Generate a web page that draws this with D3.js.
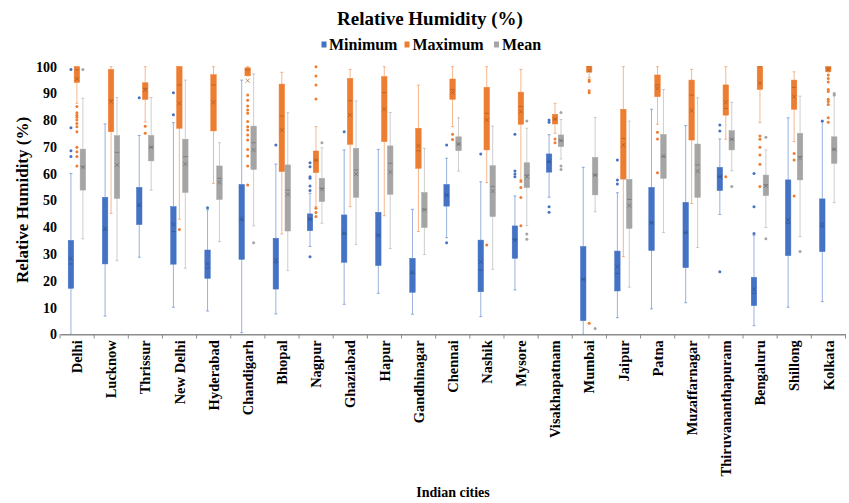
<!DOCTYPE html>
<html><head><meta charset="utf-8">
<script src="https://cdn.jsdelivr.net/npm/d3@7"></script>
<style>
html,body{margin:0;padding:0;background:#fff;}
</style></head>
<body><svg id="chart" width="849" height="503"></svg>
<script>
const cities = ["Delhi","Lucknow","Thrissur","New Delhi","Hyderabad","Chandigarh","Bhopal","Nagpur","Ghaziabad","Hapur","Gandhinagar","Chennai","Nashik","Mysore","Visakhapatnam","Mumbai","Jaipur","Patna","Muzaffarnagar","Thiruvananthapuram","Bengaluru","Shillong","Kolkata"];
const seriesNames = ["Minimum","Maximum","Mean"];
const yTicks = [0,10,20,30,40,50,60,70,80,90,100];

// [whisker low, Q1, median, Q3, whisker high, mean]
const minimumStats = [
 [0,17.2,26.3,35.1,60.1,28.3],[6.8,26.3,39,51.2,78.6,39.6],[28.8,41,48,54.9,74.3,48.4],[10.1,26.2,38.4,47.7,79.1,41.1],
 [8.7,20.9,24.7,31.5,46.5,26.3],[0.6,28,42.7,56,95,43.2],[7.6,16.9,26.8,35.9,63.6,27.8],[32.8,38.7,43,45,52.7,43],
 [11.2,26.9,37.7,44.6,68.9,37.7],[15.3,25.7,37.1,45.6,69.1,36.9],[7.5,15.7,22.8,28.4,46.7,23.2],[36.1,47.9,52,56,65.8,52],
 [6.6,15.9,24,35.2,57,27.1],[16.6,28.4,35.5,40.5,51.7,35.2],[51.2,60.6,64.5,67.4,74.6,64.5],[0,5.1,20.5,32.8,62.4,20.5],
 [6.2,16.2,22.8,31.1,52.9,25.3],[9.5,31.3,41.7,54.9,84.1,41.7],[11.8,24.9,38,49.3,78,38.1],[44.8,53.7,58.9,62.4,73,58.9],
 [3.2,10.7,15.3,21.3,37,16.8],[10.1,29.4,41.5,57.7,80.9,42.7],[12.2,30.9,40.2,50.6,79.5,41.2]
];
const maximumStats = [
 [86.3,94.1,98.8,100,100,95.4],[45.2,75.7,87.5,99,100,86.9],[79.4,87.8,91.9,94,100,91.3],[43,77,93.2,100,100,86.3],
 [56.4,76,93.2,97,100,86.7],[96.6,96.6,98.8,99.6,100,94.8],[37.5,60.8,81.6,93.5,97.9,76.3],[47.7,60.4,65.1,68.5,77.6,65.1],
 [47.7,71,87.3,95.6,99,81.9],[44.3,72,90.3,96.3,100,84.1],[38.4,62,68.6,77,93.1,70.4],[77.6,87.8,91.5,95.4,100,90.4],
 [56.7,68.9,82.6,92.3,100,80.1],[56.7,78.5,85.1,90.5,99,83.2],[75.1,78.6,80.4,82.2,86.3,80.4],[96,98,100,100,100,98.5],
 [29,58,73.2,84.1,100,70.7],[78.5,88.8,93.2,96.9,100,91.9],[48.9,72.6,89.4,95,99,83.6],[72.9,81.9,84.4,93.2,100,86.7],
 [79.1,91.5,100,100,100,93.8],[72,84.1,92.3,95,98.1,88.8],[98,98.2,99.5,100,100,98.8]
];
const meanStats = [
 [35.7,53.9,62.6,69.2,88.2,62.4],[27.5,50.8,68,74.2,88.5,63.3],[53.9,64.8,69.9,74.3,88.5,69.9],[24.7,53,66.4,72.9,95,63.6],
 [34.6,50.4,58.3,62.9,71.6,56.8],[40.5,61.6,71.6,77.8,97.3,68.9],[23.8,38.6,53.9,63.3,82.8,52.3],[41.5,49.6,54.5,58.3,69.7,54.2],
 [33.6,51.2,61.4,69.5,87.2,59.9],[32,52.3,63.9,70.4,82.9,60.6],[29.8,39.9,46.7,53,69.5,46.5],[61,68.6,71.1,73.8,80.9,71.1],
 [24.3,44,55.2,63,77.8,53.5],[40.6,54.8,59.5,64.1,77,58.9],[65.5,70.1,72.4,74.5,80.3,72.4],[45.8,52.1,59.5,66.1,81,59.5],
 [17.6,39.6,50.4,57.9,79.7,48.1],[38,58.3,66.4,74.7,91.5,66.6],[32.4,51.2,63.3,71.1,88.4,61],[61.1,68.9,72.9,76.1,86.7,72.9],
 [39.9,51.8,55.8,59.5,68.9,55.4],[36.5,57.7,66.4,75.1,89,65.8],[49.2,63.9,69.1,73.8,89.2,69.1]
];

const minimumOutliers = [
 [99,77.2,68.6,66.4],[],[88.4],[90.3,82],[47.3],[],[70.7],[64.1,62.6,58.9,58.3,55.4,53.7,29],
 [75.7],[],[],[70.7,34.2],[67.4],[74.8,61,59.9,58.9],[80.1,79.2,47.7,45.6],[],
 [65.1,57.7,56.2],[],[],[78.2,76,23.4],[60.1,47.7,37.7],[],[79.7]
];
const maximumOutliers = [
 [85.1,82.8,81.9,81.1,80.1,78.8,77.6,75.7,69.9,68.2,66.4,62.9],[],[77.7,75.1],[39.2],[],
 [89.4,87.5,85.3,83.8,82.6,79.5,77.6,76.3,74.5,72.6,69.1,66.6,62.9,55.8],[],[100,96.5,93.2,87.9,47.1,45.5,44],
 [],[],[],[74.8,72.8],[33.4],[57.4,54.9,51.1,40.6],[73,71.6],[95,94.5,91,90.3,4.1],
 [],[75.5,73,60.4],[],[58.9],[74.1,72.9,69.9,67,63.5,55.2],[67.6,65.1,51.7],[96.9,95.6,94.3,91.5,90.7,87.8,87,85.9,80.9,79.2]
];
const meanOutliers = [
 [99],[],[],[],[],[34.2],[],[71.6],[],[],[],[],[],[79.7,37.5,35.5],[82.9,62.9,61.6],[2.2],
 [],[],[],[55.2],[73.6,35.7],[30.9],[90,89.4]
];

const FONT = "'Liberation Serif','Times New Roman',serif";
const colors = {Minimum:"#4472C4", Maximum:"#ED7D31", Mean:"#A5A5A5"};
const darks = {Minimum:"#2F528F", Maximum:"#AE5A21", Mean:"#6E6E6E"};
const statsBy = {Minimum:minimumStats, Maximum:maximumStats, Mean:meanStats};
const outBy = {Minimum:minimumOutliers, Maximum:maximumOutliers, Mean:meanOutliers};

const svg = d3.select("#chart");
const x = d3.scaleBand().domain(cities).range([60, 845.5]);
const sub = d3.scaleBand().domain(seriesNames).range([8.2, 25.6]).paddingInner(0.08);
const y = d3.scaleLinear().domain([0,100]).range([334.3, 66.7]);

function label(sel, size){
  return sel.style("font-family",FONT).style("font-weight","bold").style("font-size",size).attr("fill","#000");
}

// title
label(svg.append("text").attr("x",430).attr("y",25).attr("text-anchor","middle"),"19px").text("Relative Humidity (%)");

// legend
const legendPos = [{n:"Minimum",sx:324,tx:329},{n:"Maximum",sx:407,tx:412.5},{n:"Mean",sx:496.5,tx:502}];
legendPos.forEach(l=>{
  svg.append("rect").attr("x",l.sx-2.5).attr("y",41.5).attr("width",5).attr("height",6).attr("fill",colors[l.n]);
  label(svg.append("text").attr("x",l.tx).attr("y",50),"16px").text(l.n);
});

// y axis
const ya = svg.append("g").attr("transform","translate(58,0)").call(d3.axisLeft(y).tickValues(yTicks).tickSize(0).tickPadding(1));
ya.select(".domain").remove();
label(ya.selectAll("text"),"14px");

label(svg.append("text").attr("transform","translate(28,200) rotate(-90)").attr("text-anchor","middle"),"17px").text("Relative Humidity (%)");

// boxes
const plot = svg.append("g");
seriesNames.forEach(s=>{
  const st = statsBy[s], outs = outBy[s];
  const w = sub.bandwidth();
  cities.forEach((c,i)=>{
    const d = st[i];
    const x0 = x(c) + sub(s), xc = x0 + w/2;
    const g = plot.append("g");
    g.append("line").attr("x1",xc).attr("x2",xc).attr("y1",y(d[3])).attr("y2",y(d[4])).attr("stroke",colors[s]).attr("stroke-opacity",0.55).attr("stroke-width",1);
    g.append("line").attr("x1",xc).attr("x2",xc).attr("y1",y(d[1])).attr("y2",y(d[0])).attr("stroke",colors[s]).attr("stroke-opacity",0.55).attr("stroke-width",1);
    [d[0],d[4]].forEach(v=>g.append("line").attr("x1",xc-1.5).attr("x2",xc+1.5).attr("y1",y(v)).attr("y2",y(v)).attr("stroke",colors[s]).attr("stroke-opacity",0.55).attr("stroke-width",1));
    g.append("rect").attr("x",x0).attr("width",w).attr("y",y(d[3])).attr("height",Math.max(0.8,y(d[1])-y(d[3])))
      .attr("fill",colors[s]).attr("stroke",colors[s]).attr("stroke-width",0.5);
    g.append("line").attr("x1",x0+0.5).attr("x2",x0+w-0.5).attr("y1",y(d[2])).attr("y2",y(d[2])).attr("stroke",darks[s]).attr("stroke-width",0.7);
    const my = y(d[5]), r = 2;
    g.append("path").attr("d",`M${xc-r},${my-r}L${xc+r},${my+r}M${xc-r},${my+r}L${xc+r},${my-r}`).attr("stroke",darks[s]).attr("stroke-width",0.7).attr("fill","none");
    outs[i].forEach(v=>g.append("circle").attr("cx",xc).attr("cy",y(v)).attr("r",1.5).attr("fill",colors[s]));
  });
});

// x axis
const xa = svg.append("g").attr("transform","translate(0,334.3)").call(d3.axisBottom(x).tickSize(0).tickSizeOuter(0));
xa.select(".domain").attr("stroke","#8c8c8c").attr("stroke-width",1.5);
label(xa.selectAll("text").attr("transform","rotate(-90)").attr("text-anchor","end").attr("x",-6).attr("y",0).attr("dy","0.35em"),"14.5px");
const bounds = cities.map(c=>x(c)).concat([x.range()[1]]);
svg.append("g").selectAll("line").data(bounds).join("line").attr("x1",d=>d).attr("x2",d=>d).attr("y1",334.3).attr("y2",338.5).attr("stroke","#8c8c8c").attr("stroke-width",1);

label(svg.append("text").attr("x",453).attr("y",497).attr("text-anchor","middle"),"14px").text("Indian cities");
</script></body></html>
